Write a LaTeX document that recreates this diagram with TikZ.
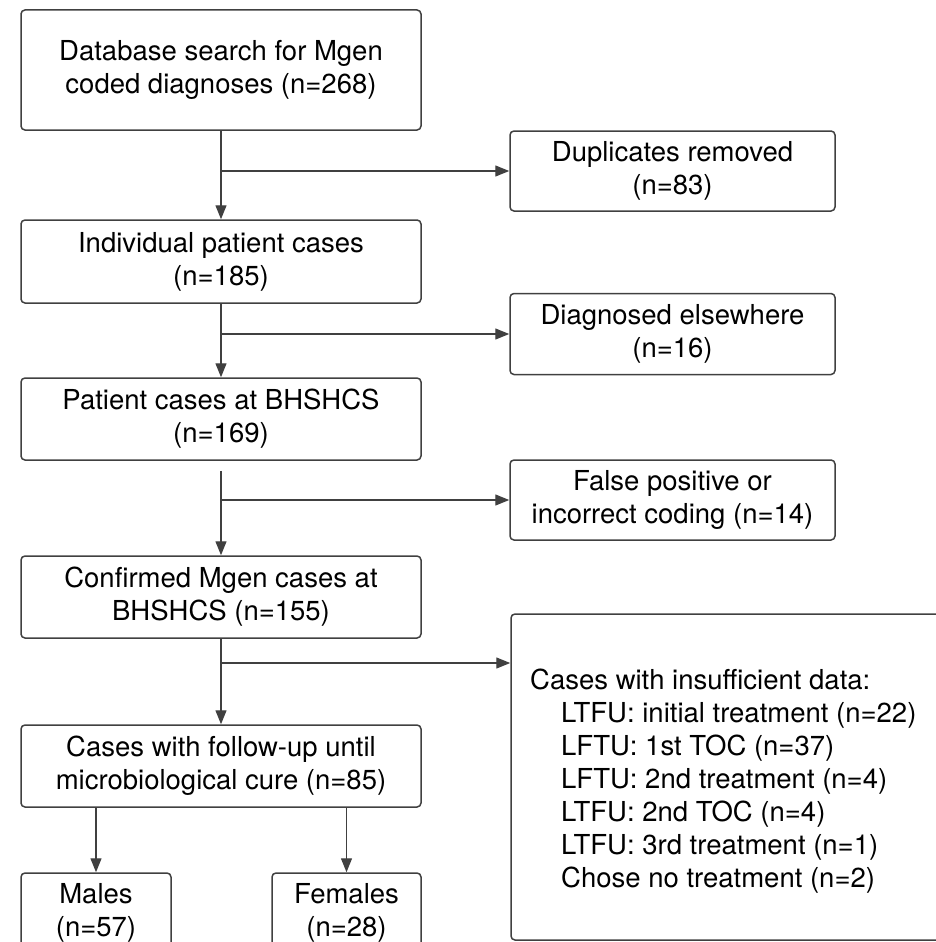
\documentclass[tikz,border=0pt]{standalone}
\usepackage{fontspec}
\setmainfont{TeX Gyre Heros}
\usetikzlibrary{arrows.meta}
\begin{document}
\begin{tikzpicture}[x=1pt, y=-1pt,
        box/.style={draw=black!75, line width=1.5pt, rounded corners=4pt, align=center, inner sep=0pt, text=black, font=\fontsize{27.5pt}{33pt}\selectfont},
        arr/.style={draw=black!75, line width=1.3pt, -{Triangle[length=14pt, width=11pt]}}]
    \useasboundingbox (0,0) rectangle (936,942);

    \node [box, minimum width=400pt, minimum height=120pt] (db) at (221,70) {Database search for Mgen\\coded diagnoses (n=268)};
    \node [box, minimum width=400pt, minimum height=83pt] (indiv) at (221,261.5) {Individual patient cases\\(n=185)};
    \node [box, minimum width=400pt, minimum height=82pt] (bhs) at (221,419) {Patient cases at BHSHCS\\(n=169)};
    \node [box, minimum width=400pt, minimum height=82pt] (conf) at (221,597) {Confirmed Mgen cases at\\BHSHCS (n=155)};
    \node [box, minimum width=400pt, minimum height=82pt] (fu) at (221,766) {Cases with follow-up until\\microbiological cure (n=85)};
    \node [box, minimum width=150pt, minimum height=80pt] (males) at (96,913) {Males\\(n=57)};
    \node [box, minimum width=149pt, minimum height=80pt] (fem) at (346.5,913) {Females\\(n=28)};

    \node [box, minimum width=325pt, minimum height=80pt] (dup) at (672.5,171) {Duplicates removed\\(n=83)};
    \node [box, minimum width=325pt, minimum height=81pt] (diag) at (672.5,334) {Diagnosed elsewhere\\(n=16)};
    \node [box, minimum width=325pt, minimum height=80pt] (fp) at (672.5,500) {False positive or\\incorrect coding (n=14)};
    \node [box, minimum width=437pt, minimum height=326pt] (lost) at (729.5,777) {};
    \node [anchor=north west, align=left, inner sep=0pt, text=black, font=\fontsize{27.5pt}{33pt}\selectfont] (lostlist) at (530,669) {Cases with insufficient data:\\
        \hspace*{31pt}LTFU: initial treatment (n=22)\\
        \hspace*{31pt}LFTU: 1st TOC (n=37)\\
        \hspace*{31pt}LFTU: 2nd treatment (n=4)\\
        \hspace*{31pt}LTFU: 2nd TOC (n=4)\\
        \hspace*{31pt}LTFU: 3rd treatment (n=1)\\
        \hspace*{31pt}Chose no treatment (n=2)};

    \coordinate (split) at (221,663);

    \draw [arr] (db) -- (indiv);
    \draw [arr] (indiv) -- (bhs);
    \draw [arr] ([yshift=-10pt]bhs.south) -- (conf);
    \draw [arr] (conf) -- (fu);
    \draw [arr] (fu.south -| males) -- (males);
    \draw [arr] (fu.south -| fem) -- (fem);

    \draw [arr] (db.south |- dup.west) -- (dup.west);
    \draw [arr] (indiv.south |- diag.west) -- (diag.west);
    \draw [arr] (bhs.south |- fp.west) -- (fp.west);
    \draw [arr] (split) -- (split -| lost.west);
\end{tikzpicture}
\end{document}
